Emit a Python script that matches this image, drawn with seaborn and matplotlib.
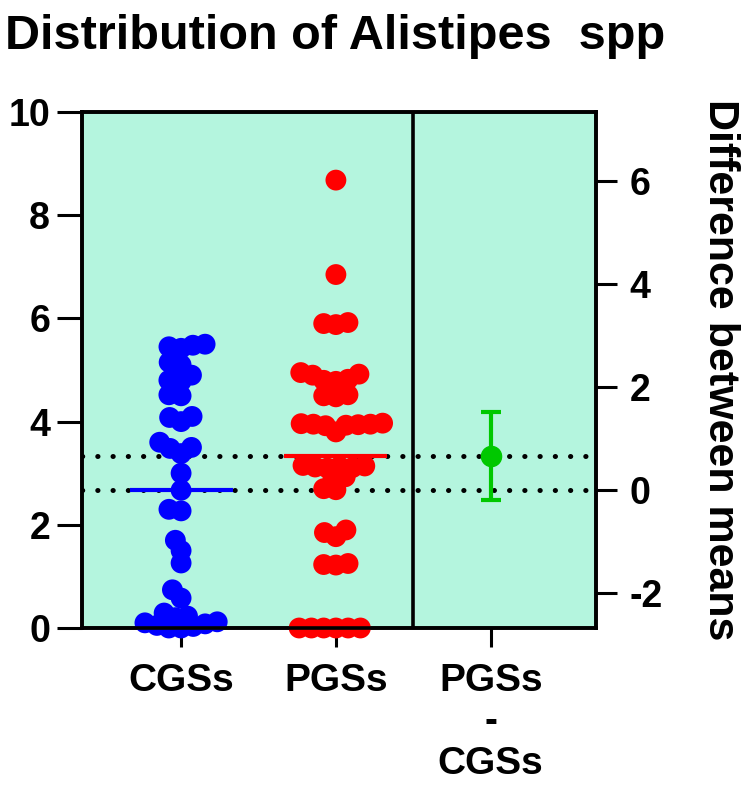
import numpy as np
import pandas as pd
import matplotlib
matplotlib.use("Agg")
import matplotlib.pyplot as plt
import seaborn as sns

# ---------------- data ----------------
categories = ["CGSs", "PGSs"]
diff_label = "PGSs\n-\nCGSs"
cgs_values = [5.5, 5.48, 5.45, 5.42, 4.9, 5.15, 5.1, 4.8, 4.78, 4.5, 4.52, 4.0,
              4.1, 4.08, 3.6, 3.5, 3.48, 3.38, 3.0, 2.67, 2.3, 2.27, 1.7, 1.5,
              1.26, 0.74, 0.58, 0.29, 0.23, 0.2, 0.12, 0.1, 0.08, 0.05, 0.03,
              0.0, 0.0]
pgs_values = [8.68, 6.85, 5.92, 5.9, 5.88, 4.95, 4.92, 4.9, 4.82, 4.8, 4.78,
              4.52, 4.5, 4.48, 3.97, 3.96, 3.95, 3.95, 3.94, 3.93, 3.92, 3.8,
              3.15, 3.14, 3.13, 3.12, 3.11, 3.1, 2.93, 2.9, 2.7, 2.68, 1.9,
              1.85, 1.77, 1.25, 1.23, 1.22, 0.0, 0.0, 0.0, 0.0, 0.0, 0.0]
diff_ci = [-0.19, 1.51]
left_ticks = [0, 2, 4, 6, 8, 10]
right_ticks = [-2, 0, 2, 4, 6]
title = "Distribution of Alistipes  spp"
right_label = "Difference between means"

colors = {"CGSs": "#0000FF", "PGSs": "#FF0000"}
green = "#00C800"
bg = "#B4F5DE"

sns.set_theme(style="ticks")
plt.rcParams["font.family"] = ["Liberation Sans", "DejaVu Sans"]
plt.rcParams["font.weight"] = "bold"
plt.rcParams["axes.unicode_minus"] = False
for k in ("text.color", "axes.labelcolor", "xtick.color", "ytick.color",
          "axes.edgecolor"):
    plt.rcParams[k] = "black"

fig = plt.figure(figsize=(7.5, 7.85), dpi=100)
W, H = 750, 785
L, R, T, B = 82, 596, 112, 628
ax = fig.add_axes([L / W, 1 - B / H, (R - L) / W, (B - T) / H])
ax.set_facecolor(bg)

df = pd.DataFrame({
    "group": ["CGSs"] * len(cgs_values) + ["PGSs"] * len(pgs_values),
    "value": cgs_values + pgs_values,
})

ax.set_xlim(-0.64, 2.68)
ax.set_ylim(0, 10)
sns.swarmplot(data=df, x="group", y="value", hue="group", order=categories,
              palette=colors, size=8.4, linewidth=0, legend=False, ax=ax)
ax.set_xlim(-0.64, 2.68)
ax.set_ylim(0, 10)

# compute swarm layout with small markers, then enlarge for overlap look
fig.canvas.draw()
for coll in ax.collections:
    if "draw" in coll.__dict__:
        del coll.draw
    coll.set_sizes([15 ** 2])
    coll.set_clip_on(False)
    coll.set_zorder(4)

mean_c = float(np.mean(cgs_values))
mean_p = float(np.mean(pgs_values))
diff = mean_p - mean_c

# dotted reference lines at group means
for m in (mean_c, mean_p):
    ax.axhline(m, color="black", lw=3.6, linestyle=(0, (0.05, 3.0)),
               dash_capstyle="round", zorder=2)
# mean lines
ax.hlines(mean_c, -0.333, 0.333, color=colors["CGSs"], lw=3, zorder=5)
ax.hlines(mean_p, 1 - 0.333, 1 + 0.333, color=colors["PGSs"], lw=3, zorder=5)
# divider
ax.axvline(1.5, color="black", lw=2.6, zorder=3)

ax.set_xticks([0, 1, 2])
ax.set_xticklabels(categories + [diff_label])
ax.set_yticks(left_ticks)
ax.set_xlabel("")
ax.set_ylabel("")
for s in ax.spines.values():
    s.set_linewidth(2.6)
    s.set_color("black")
    s.set_visible(True)
ax.tick_params(axis="x", length=14, width=2.2, labelsize=28, pad=11, colors="black")
ax.tick_params(axis="y", length=18, width=2.2, labelsize=27, pad=5, colors="black")
for lab in ax.get_xticklabels():
    lab.set_linespacing(1.2)

# right axis: difference between means
ax2 = ax.twinx()
ax2.set_ylim(-mean_c, 10 - mean_c)
ax2.errorbar([2], [diff], yerr=[[diff - diff_ci[0]], [diff_ci[1] - diff]],
             fmt="o", color=green, ms=14.5, capsize=7.5, elinewidth=3,
             capthick=3, zorder=6)
ax2.set_xlim(-0.64, 2.68)
ax2.set_yticks(right_ticks)
ax2.tick_params(axis="y", length=15, width=2.2, labelsize=27, pad=9, colors="black")
for s in ax2.spines.values():
    s.set_linewidth(2.6)
    s.set_color("black")
ax2.set_ylabel(right_label, rotation=-90, fontsize=31, fontweight="bold",
               color="black")
ax2.yaxis.set_label_coords((720 - L) / (R - L), 0.5)
ax2.yaxis.label.set_va("center")
ax2.yaxis.label.set_ha("center")

fig.text(5 / W, 1 - 14 / H, title, fontsize=35, fontweight="bold",
         ha="left", va="top", color="black")

fig.savefig("out.png", dpi=100)
